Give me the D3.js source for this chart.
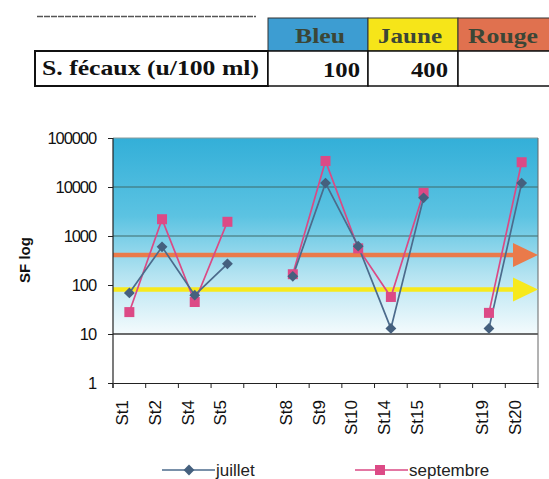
<!DOCTYPE html>
<html><head><meta charset="utf-8">
<script src="https://cdn.jsdelivr.net/npm/d3@7"></script>
<style>body{margin:0;background:#fff;}svg{display:block;}</style>
</head><body>
<svg id="c" width="549" height="479"></svg>
<script>
const categories = ["St1","St2","St4","St5","","St8","St9","St10","St14","St15","","St19","St20"];
const juillet    = [69, 600, 62, 270, null, 150, 12000, 620, 13, 6000, null, 13, 12000];
const septembre  = [28, 2200, 45, 1950, null, 166, 34000, 560, 57, 7600, null, 27, 32000];
const yTicks = [1, 10, 100, 1000, 10000, 100000];
const gridValues = [10, 1000, 10000];
const thresholdJaune = 81;
const thresholdRouge = 410;
const tableHeaders = ["Bleu", "Jaune", "Rouge"];
const tableRowLabel = "S. fécaux (u/100 ml)";
const tableValues = ["100", "400", ""];
const seriesNames = ["juillet", "septembre"];

const svg = d3.select("#c");
const L = 113, R = 538, T = 138, B = 383;
const serif = "Liberation Serif, Times New Roman, serif";
const sans = "Liberation Sans, Arial, sans-serif";

// ---- Table ----
const tbl = svg.append("g");
tbl.append("line").attr("x1",37).attr("x2",256).attr("y1",16.5).attr("y2",16.5)
  .attr("stroke","#555").attr("stroke-width",1.5).attr("stroke-dasharray","6,1");
const hdrColors = ["#3d9dd2","#f6e519","#e0714f"];
const colX = [268, 368, 458, 560];
const hdrCenters = [320, 410, 503];
const hdrWidths = [50, 64, 70];
tableHeaders.forEach((h,i)=>{
  tbl.append("rect").attr("x",colX[i]).attr("y",18).attr("width",colX[i+1]-colX[i]).attr("height",33)
    .attr("fill",hdrColors[i]).attr("stroke","#333").attr("stroke-width",1);
  tbl.append("text").attr("x",hdrCenters[i]-hdrWidths[i]/2).attr("y",43)
    .attr("textLength",hdrWidths[i]).attr("lengthAdjust","spacingAndGlyphs")
    .attr("font-family",serif).attr("font-weight","bold").attr("font-size",21)
    .attr("fill","#3b4636").text(h);
});
// row 2
tbl.append("rect").attr("x",35).attr("y",51).attr("width",233).attr("height",35)
  .attr("fill","#fff").attr("stroke","#111").attr("stroke-width",2);
tbl.append("text").attr("x",42).attr("y",75).attr("textLength",217).attr("lengthAdjust","spacingAndGlyphs")
  .attr("font-family",serif).attr("font-weight","bold").attr("font-size",22).attr("fill","#111").text(tableRowLabel);
const valRight = [360, 448];
for(let i=0;i<3;i++){
  tbl.append("rect").attr("x",colX[i]).attr("y",51).attr("width",colX[i+1]-colX[i]).attr("height",35)
    .attr("fill","#fff").attr("stroke","#111").attr("stroke-width",1.5);
  if(tableValues[i]) tbl.append("text").attr("x",valRight[i]-37).attr("y",77)
    .attr("textLength",37).attr("lengthAdjust","spacingAndGlyphs")
    .attr("font-family",serif).attr("font-weight","bold").attr("font-size",22)
    .attr("fill","#111").text(tableValues[i]);
}

// ---- Scales ----
const x = d3.scaleBand().domain(categories.map((d,i)=>i)).range([L,R]).padding(0);
const y = d3.scaleLog().domain([1,100000]).range([B,T]);
const cx = i => x(i) + x.bandwidth()/2;

// ---- Background gradient ----
const defs = svg.append("defs");
const grad = defs.append("linearGradient").attr("id","bg").attr("x1",0).attr("x2",0).attr("y1",0).attr("y2",1);
grad.append("stop").attr("offset","0%").attr("stop-color","#33afd8");
grad.append("stop").attr("offset","40%").attr("stop-color","#5cc3e2");
grad.append("stop").attr("offset","70%").attr("stop-color","#b4e3f1");
grad.append("stop").attr("offset","100%").attr("stop-color","#f4fbfd");
svg.append("rect").attr("x",L).attr("y",y(100000)).attr("width",R-L).attr("height",y(10)-y(100000))
  .attr("fill","url(#bg)");
svg.append("line").attr("x1",L).attr("x2",R).attr("y1",y(100000)).attr("y2",y(100000))
  .attr("stroke","#8a9a9a").attr("stroke-width",1);

// gridlines
svg.selectAll(".grid").data(gridValues).join("line")
  .attr("x1",L).attr("x2",R).attr("y1",d=>y(d)).attr("y2",d=>y(d))
  .attr("stroke",d=>d===10?"#3a3a3a":"#3f6a6a").attr("stroke-width",d=>d===10?1.3:1.2);

// right border
svg.append("line").attr("x1",R).attr("x2",R).attr("y1",T).attr("y2",B).attr("stroke","#666").attr("stroke-width",1);

// ---- Threshold arrows ----
function arrow(val,color){
  const yy = y(val);
  svg.append("line").attr("x1",L).attr("x2",R-22).attr("y1",yy).attr("y2",yy)
    .attr("stroke",color).attr("stroke-width",4.5);
  svg.append("path").attr("d",`M${R-25},${yy-12} L${R},${yy} L${R-25},${yy+12} Z`).attr("fill",color);
}
arrow(thresholdRouge,"#ea7a4a");
arrow(thresholdJaune,"#f7e91c");

// ---- Axes ----
const yAxis = d3.axisLeft(y).tickValues(yTicks).tickFormat(d3.format("d")).tickSize(5).tickSizeOuter(0);
const gy = svg.append("g").attr("transform",`translate(${L},0)`).call(yAxis);
gy.select(".domain").attr("stroke","#222").attr("stroke-width",1.2).attr("d",`M0,${T}V${B+5}`);
gy.selectAll(".tick line").attr("stroke","#222");
gy.selectAll(".tick text").attr("font-family",sans).attr("font-size",16.5)
  .attr("letter-spacing","-1.1px").attr("fill","#111").attr("x",-17);

const xAxis = d3.axisBottom(x).tickFormat("").tickSize(0).tickSizeOuter(0);
const gx = svg.append("g").attr("transform",`translate(0,${B})`).call(xAxis);
gx.select(".domain").attr("stroke","#222").attr("stroke-width",1.2);
const bounds = d3.range(categories.length+1).map(i=> i<categories.length ? x(i) : R);
gx.selectAll(".btick").data(bounds).join("line").attr("class","btick")
  .attr("x1",d=>d).attr("x2",d=>d).attr("y1",0).attr("y2",5).attr("stroke","#222");
svg.append("g").selectAll("text").data(categories.map((c,i)=>({c,i})).filter(d=>d.c))
  .join("text")
  .attr("transform",d=>`translate(${cx(d.i)-1},${B+17}) rotate(-90)`)
  .attr("text-anchor","end")
  .attr("font-family",sans).attr("font-size",17).attr("fill","#111")
  .text(d=>d.c);

svg.append("text").attr("transform",`translate(30,260) rotate(-90)`).attr("text-anchor","middle")
  .attr("font-family",sans).attr("font-weight","bold").attr("font-size",15)
  .attr("fill","#111").text("SF  log");

// ---- Series ----
const line = d3.line().defined(d=>d.v!=null).x(d=>cx(d.i)).y(d=>y(d.v));
const toPts = arr => arr.map((v,i)=>({v,i}));
const jCol = "#4c6b8c", sCol = "#da4a85";
svg.append("path").datum(toPts(septembre)).attr("d",line).attr("fill","none").attr("stroke",sCol).attr("stroke-width",1.7);
svg.append("path").datum(toPts(juillet)).attr("d",line).attr("fill","none").attr("stroke",jCol).attr("stroke-width",1.7);
const diamond = d3.symbol().type(d3.symbolDiamond2).size(75);
svg.selectAll(".sq").data(toPts(septembre).filter(d=>d.v!=null)).join("rect")
  .attr("x",d=>cx(d.i)-5).attr("y",d=>y(d.v)-5).attr("width",10).attr("height",10).attr("fill","#dc4a86");
svg.selectAll(".dm").data(toPts(juillet).filter(d=>d.v!=null)).join("path")
  .attr("transform",d=>`translate(${cx(d.i)},${y(d.v)})`).attr("d",diamond).attr("fill","#45607e");

// ---- Legend ----
const lg = svg.append("g").attr("font-family",sans).attr("font-size",17).attr("fill","#222");
lg.append("line").attr("x1",162).attr("x2",215).attr("y1",470).attr("y2",470).attr("stroke",jCol).attr("stroke-width",1.6);
lg.append("path").attr("transform","translate(189,470)").attr("d",diamond).attr("fill","#45607e");
lg.append("text").attr("x",216).attr("y",476).text(seriesNames[0]);
lg.append("line").attr("x1",355).attr("x2",408).attr("y1",470).attr("y2",470).attr("stroke",sCol).attr("stroke-width",1.6);
lg.append("rect").attr("x",375).attr("y",465).attr("width",10).attr("height",10).attr("fill","#dc4a86");
lg.append("text").attr("x",409).attr("y",476).text(seriesNames[1]);
</script>
</body></html>
